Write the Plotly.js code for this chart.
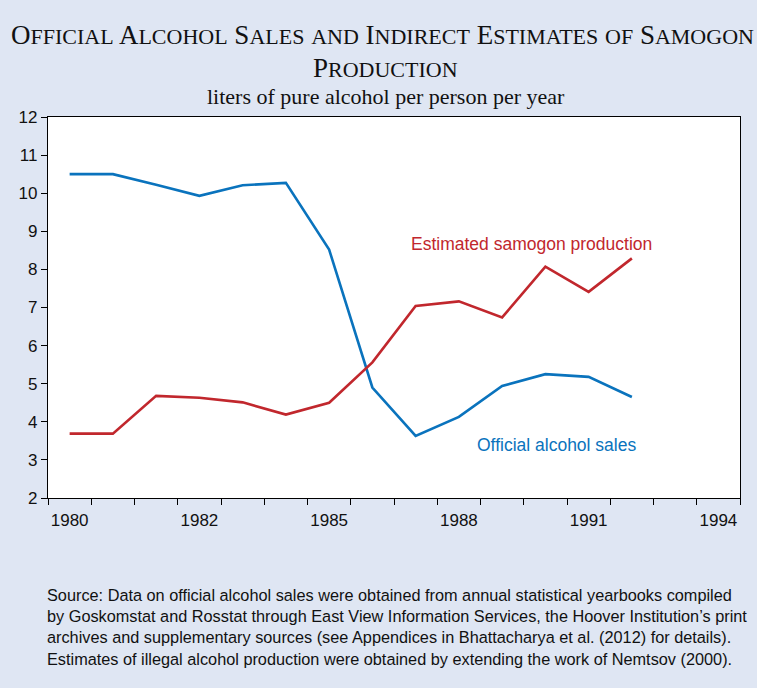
<!DOCTYPE html>
<html>
<head>
<meta charset="utf-8">
<script src="https://cdn.plot.ly/plotly-3.0.1.min.js"></script>
<style>html,body{margin:0;padding:0;background:#DFE6F3;}</style>
</head>
<body>
<div id="chart" style="width:757px;height:688px;"></div>
<script>
// Data (positions are year slots, labelled as in the original chart)
const years = [1980,1981,1982,1983,1984,1985,1986,1987,1988,1989,1990,1991,1992,1993];
const officialSales = [10.50,10.50,10.22,9.93,10.21,10.27,8.52,4.90,3.63,4.13,4.94,5.25,5.18,4.65];
const samogon = [3.69,3.69,4.68,4.63,4.51,4.19,4.50,5.56,7.04,7.16,6.74,8.07,7.41,8.29];
const tickPositions = [1980,1983,1986,1989,1992,1995];
const tickLabels = ['1980','1982','1985','1988','1991','1994'];
const slotEdges = [];
for (let y = 1979.5; y <= 1995.5; y += 1) slotEdges.push(y);

const blue = '#0a73bd';
const red = '#c1272d';
const serif = 'Liberation Serif, Times New Roman, serif';
const SC = 22; // small-cap size

// small caps built from real capitals at two sizes
function smallCaps(str, lowerWords) {
  return str.split(' ').map(w => {
    if (lowerWords && lowerWords.includes(w)) {
      return '<span style="font-size:' + SC + 'px">' + w.toUpperCase() + '</span>';
    }
    return w[0] + '<span style="font-size:' + SC + 'px">' + w.slice(1).toUpperCase() + '</span>';
  }).join(' ');
}
const titleLine1 = smallCaps('Official Alcohol Sales and Indirect Estimates of Samogon', ['and', 'of']);
const titleLine2 = smallCaps('Production');

const traces = [
  {x: years, y: officialSales, type: 'scatter', mode: 'lines',
   line: {color: blue, width: 2.6}, name: 'Official alcohol sales', hoverinfo: 'x+y'},
  {x: years, y: samogon, type: 'scatter', mode: 'lines',
   line: {color: red, width: 2.6}, name: 'Estimated samogon production', hoverinfo: 'x+y'}
];

const layout = {
  width: 757, height: 688,
  paper_bgcolor: '#DFE6F3',
  plot_bgcolor: '#ffffff',
  showlegend: false,
  margin: {l: 48, r: 17, t: 117, b: 190},
  font: {family: 'Liberation Sans, Arial, sans-serif', color: '#111'},
  xaxis: {
    range: [1979.5, 1995.5],
    tickmode: 'array', tickvals: tickPositions, ticktext: tickLabels,
    ticks: '', showgrid: false, zeroline: false, ticklabelstandoff: 6,
    showline: true, linecolor: '#000', linewidth: 1.2, mirror: true,
    tickfont: {size: 17, color: '#111'},
    minor: {tickmode: 'array', tickvals: slotEdges, ticks: 'outside', ticklen: 6, tickcolor: '#000', tickwidth: 1, showgrid: false}
  },
  yaxis: {
    range: [2, 12], tickmode: 'linear', tick0: 2, dtick: 1,
    ticks: 'outside', ticklen: 6, tickcolor: '#000',
    showgrid: false, zeroline: false,
    showline: true, linecolor: '#000', linewidth: 1.2, mirror: true,
    tickfont: {size: 17, color: '#111'}
  },
  annotations: [
    {text: titleLine1, xref: 'paper', yref: 'paper', x: 0.484, y: 1, yshift: 82,
     xanchor: 'center', yanchor: 'middle', showarrow: false,
     font: {family: serif, size: 27, color: '#111'}},
    {text: titleLine2, xref: 'paper', yref: 'paper', x: 0.488, y: 1, yshift: 49,
     xanchor: 'center', yanchor: 'middle', showarrow: false,
     font: {family: serif, size: 27, color: '#111'}},
    {text: 'liters of pure alcohol per person per year', xref: 'paper', yref: 'paper',
     x: 0.488, y: 1, yshift: 21, xanchor: 'center', yanchor: 'middle', showarrow: false,
     font: {family: serif, size: 22, color: '#111'}},
    {text: 'Estimated samogon production', xref: 'x', yref: 'y', x: 1990.67, y: 8.66,
     showarrow: false, font: {size: 17.5, color: red}},
    {text: 'Official alcohol sales', xref: 'x', yref: 'y', x: 1991.25, y: 3.38,
     showarrow: false, font: {size: 17.5, color: blue}},
    {text: 'Source: Data on official alcohol sales were obtained from annual statistical yearbooks compiled<br>by Goskomstat and Rosstat through East View Information Services, the Hoover Institution\u2019s print<br>archives and supplementary sources (see Appendices in Bhattacharya et al. (2012) for details).<br>Estimates of illegal alcohol production were obtained by extending the work of Nemtsov (2000).',
     xref: 'paper', yref: 'paper', x: -0.005, y: -0.226, xanchor: 'left', yanchor: 'top', align: 'left',
     showarrow: false, font: {size: 16.3, color: '#111'}}
  ]
};

Plotly.newPlot('chart', traces, layout, {displayModeBar: false, staticPlot: true});
</script>
</body>
</html>
